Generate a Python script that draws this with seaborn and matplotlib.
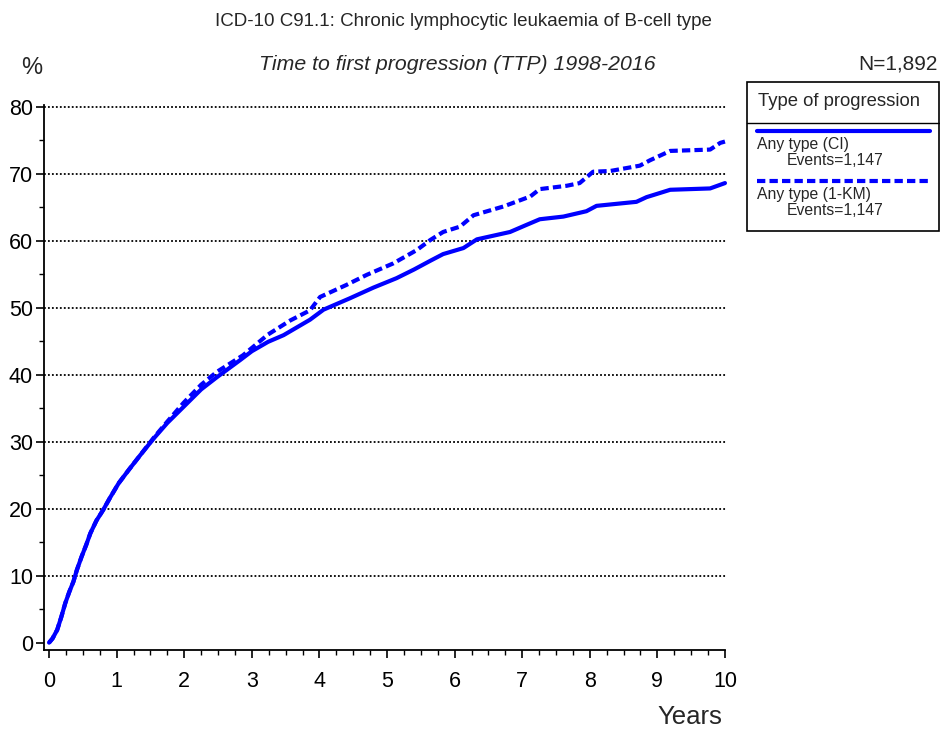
import matplotlib
matplotlib.use("Agg")
import matplotlib.pyplot as plt
import seaborn as sns
import pandas as pd
from matplotlib.lines import Line2D
from matplotlib.patches import Rectangle
from matplotlib.ticker import MultipleLocator

# ---- data ----
ci_years = [0, 0.05, 0.12, 0.18, 0.24, 0.30, 0.36, 0.41, 0.48, 0.55, 0.61, 0.70, 0.80,
            0.90, 1.03, 1.18, 1.35, 1.55, 1.75, 1.99, 2.25, 2.48, 2.83, 3.0, 3.24, 3.47,
            3.86, 4.06, 4.45, 4.8, 5.14, 5.40, 5.64, 5.83, 6.13, 6.33, 6.82, 7.05, 7.26,
            7.61, 7.95, 8.1, 8.69, 8.84, 9.19, 9.78, 10.0]
ci_pct = [0, 0.6, 1.9, 3.8, 5.9, 7.6, 9.1, 10.8, 12.8, 14.6, 16.3, 18.2, 19.8,
          21.6, 23.8, 25.8, 28.0, 30.5, 32.8, 35.2, 37.8, 39.6, 42.2, 43.5, 44.9, 45.9,
          48.2, 49.7, 51.4, 53.0, 54.4, 55.7, 57.0, 58.0, 58.9, 60.2, 61.3, 62.3, 63.2,
          63.6, 64.4, 65.2, 65.8, 66.5, 67.6, 67.8, 68.6]

km_years = [0, 0.05, 0.12, 0.18, 0.24, 0.30, 0.36, 0.41, 0.48, 0.55, 0.61, 0.70, 0.80,
            0.90, 1.03, 1.18, 1.35, 1.55, 1.75, 1.99, 2.25, 2.48, 2.87, 3.24, 3.57, 3.86,
            4.01, 4.40, 4.70, 5.09, 5.44, 5.64, 5.83, 6.08, 6.28, 6.72, 7.12, 7.26, 7.66,
            7.85, 8.05, 8.3, 8.74, 8.89, 9.19, 9.78, 9.93, 10.0]
km_pct = [0, 0.6, 1.9, 3.8, 5.9, 7.6, 9.1, 10.8, 12.8, 14.6, 16.3, 18.2, 19.8,
          21.6, 23.8, 25.8, 28.0, 30.6, 33.0, 35.8, 38.5, 40.4, 42.9, 46.0, 48.1, 49.6,
          51.6, 53.4, 54.9, 56.6, 58.6, 60.1, 61.3, 62.1, 63.8, 65.1, 66.6, 67.7, 68.2,
          68.6, 70.3, 70.4, 71.2, 72.0, 73.4, 73.6, 74.6, 74.8]

series_labels = ["Any type (CI)", "Any type (1-KM)"]
events = ["Events=1,147", "Events=1,147"]
x_ticks = list(range(0, 11))
y_ticks = list(range(0, 81, 10))

title = "ICD-10 C91.1: Chronic lymphocytic leukaemia of B-cell type"
subtitle = "Time to first progression (TTP) 1998-2016"
n_text = "N=1,892"
legend_title = "Type of progression"

# ---- styling ----
sns.set_style("ticks")
plt.rcParams['font.family'] = ['Liberation Sans', 'DejaVu Sans']
BLUE = "#0000ff"

fig = plt.figure(figsize=(9.4, 7.29), dpi=100)
ax = fig.add_axes([44 / 940, 79 / 729, 683 / 940, 545.3 / 729])

df_ci = pd.DataFrame({"years": ci_years, "pct": ci_pct})
df_km = pd.DataFrame({"years": km_years, "pct": km_pct})

sns.lineplot(data=df_ci, x="years", y="pct", ax=ax, color=BLUE, lw=3.0,
             estimator=None, sort=False, zorder=3)
sns.lineplot(data=df_km, x="years", y="pct", ax=ax, color=BLUE, lw=3.0,
             estimator=None, sort=False, zorder=3, dashes=False)
ax.lines[-1].set_dashes((2.0, 1.0))

ax.set_xlim(-0.075, 10.03)
ax.set_ylim(-1.1, 80.3)
ax.set_xticks(x_ticks)
ax.set_yticks(y_ticks)
ax.xaxis.set_minor_locator(MultipleLocator(0.25))
ax.yaxis.set_minor_locator(MultipleLocator(5))
ax.tick_params(axis="both", which="major", length=6, width=1.2, direction="out",
               labelsize=15.5, color="black", labelcolor="black")
ax.tick_params(axis="both", which="minor", length=3.5, width=1.0, direction="out",
               color="black")
ax.tick_params(axis="x", pad=9)
ax.tick_params(axis="y", pad=2)
for s in ["top", "right"]:
    ax.spines[s].set_visible(False)
for s in ["left", "bottom"]:
    ax.spines[s].set_color("black")
    ax.spines[s].set_linewidth(1.3)
ax.spines["bottom"].set_bounds(-0.075, 10.0)
ax.set_xlabel("")
ax.set_ylabel("")

for v in y_ticks[1:]:
    ax.axhline(v, color="black", lw=1.3, linestyle=(0, (1, 1.2)), zorder=1)

# ---- texts ----
fig.text(463 / 940, 1 - 21 / 729, title, ha="center", va="center", fontsize=13.5)
fig.text(457 / 940, 1 - 65 / 729, subtitle, ha="center", va="center", fontsize=15.3,
         style="italic")
fig.text(32 / 940, 1 - 68 / 729, "%", ha="center", va="center", fontsize=17)
fig.text(938 / 940, 1 - 64 / 729, n_text, ha="right", va="center", fontsize=15)
fig.text(690 / 940, 1 - 717 / 729, "Years", ha="center", va="center", fontsize=18.5)

# ---- legend box ----
def fx(px):
    return px / 940

def fy(py):
    return 1 - py / 729

fig.patches.append(Rectangle((fx(747), fy(231)), fx(938.5) - fx(747), fy(81.5) - fy(231),
                             transform=fig.transFigure, fill=False, edgecolor="black",
                             lw=1.2))
fig.lines.append(Line2D([fx(747), fx(938.5)], [fy(123), fy(123)], transform=fig.transFigure,
                        color="black", lw=1.0))
fig.text(fx(758), fy(101.5), legend_title, ha="left", va="center", fontsize=13.3)

fig.lines.append(Line2D([fx(757), fx(930)], [fy(130.5), fy(130.5)], transform=fig.transFigure,
                        color=BLUE, lw=3.0))
ld = Line2D([fx(757), fx(930)], [fy(181), fy(181)], transform=fig.transFigure,
            color=BLUE, lw=3.0)
ld.set_dashes((2.0, 1.0))
fig.lines.append(ld)

fig.text(fx(757), fy(144), series_labels[0], ha="left", va="center", fontsize=11.3)
fig.text(fx(787), fy(160.5), events[0], ha="left", va="center", fontsize=11.3)
fig.text(fx(757), fy(194), series_labels[1], ha="left", va="center", fontsize=11.3)
fig.text(fx(787), fy(210.5), events[1], ha="left", va="center", fontsize=11.3)

fig.savefig("out.png", dpi=100)
